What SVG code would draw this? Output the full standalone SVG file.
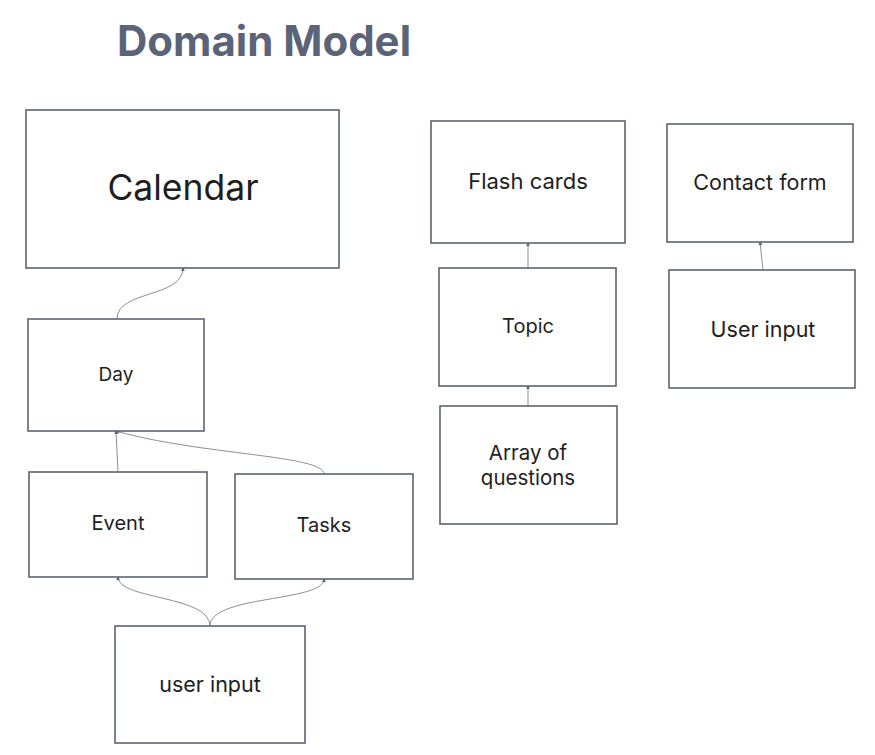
<svg xmlns="http://www.w3.org/2000/svg" width="875" height="755" viewBox="0 0 875 755">
<style>
.box{fill:#fff;stroke:#5d6373;stroke-width:1.6}
.t{font-family:Inter,"Liberation Sans",sans-serif;fill:#1e1e1e;text-anchor:middle;dominant-baseline:central}
.c{fill:none;stroke:#8a8f9c;stroke-width:1}
</style>
<defs>
<marker id="a" viewBox="0 0 6 6" refX="5" refY="3" markerWidth="4" markerHeight="4" orient="auto">
<path d="M0,0 L6,3 L0,6 z" fill="#5d6373"/>
</marker>
</defs>
<rect width="875" height="755" fill="#fff"/>
<text x="264" y="40" style="font-family:Inter,'Liberation Sans',sans-serif;font-weight:700;font-size:42px;fill:#5a6378;text-anchor:middle;dominant-baseline:central">Domain Model</text>
<g id="connectors">
<path class="c" d="M117,319 C117,290 183,298 183,268" marker-end="url(#a)"/>
<path class="c" d="M118,472 L116,431" marker-end="url(#a)"/>
<path class="c" d="M324,474 C324,455 200,455 116,431" marker-end="url(#a)"/>
<path class="c" d="M210,626 C210,595 118,600 118,577" marker-end="url(#a)"/>
<path class="c" d="M210,626 C210,595 324,602 324,579" marker-end="url(#a)"/>
<path class="c" d="M528,268 L528,243" marker-end="url(#a)"/>
<path class="c" d="M528,406 L528,386" marker-end="url(#a)"/>
<path class="c" d="M763,270 L760,242" marker-end="url(#a)"/>
</g>
<g id="calendar"><rect class="box" x="26" y="110" width="313" height="158"/><text class="t" x="183" y="187" font-size="35.5">Calendar</text></g>
<g id="day"><rect class="box" x="28" y="319" width="176" height="112"/><text class="t" x="116" y="374" font-size="19">Day</text></g>
<g id="event"><rect class="box" x="29" y="472" width="178" height="105"/><text class="t" x="118" y="523" font-size="20">Event</text></g>
<g id="tasks"><rect class="box" x="235" y="474" width="178" height="105"/><text class="t" x="324" y="525" font-size="20">Tasks</text></g>
<g id="user-input-1"><rect class="box" x="115" y="626" width="190" height="117"/><text class="t" x="210" y="684" font-size="21.5">user input</text></g>
<g id="flash-cards"><rect class="box" x="431" y="121" width="194" height="122"/><text class="t" x="528" y="181" font-size="22">Flash cards</text></g>
<g id="topic"><rect class="box" x="439" y="268" width="177" height="118"/><text class="t" x="528" y="326" font-size="20">Topic</text></g>
<g id="array-of-questions"><rect class="box" x="440" y="406" width="177" height="118"/><text class="t" x="528" y="452" font-size="20.5">Array of</text><text class="t" x="528" y="477" font-size="20.5">questions</text></g>
<g id="contact-form"><rect class="box" x="667" y="124" width="186" height="118"/><text class="t" x="760" y="182" font-size="21.5">Contact form</text></g>
<g id="user-input-2"><rect class="box" x="669" y="270" width="186" height="118"/><text class="t" x="763" y="329" font-size="21.5">User input</text></g>
</svg>
